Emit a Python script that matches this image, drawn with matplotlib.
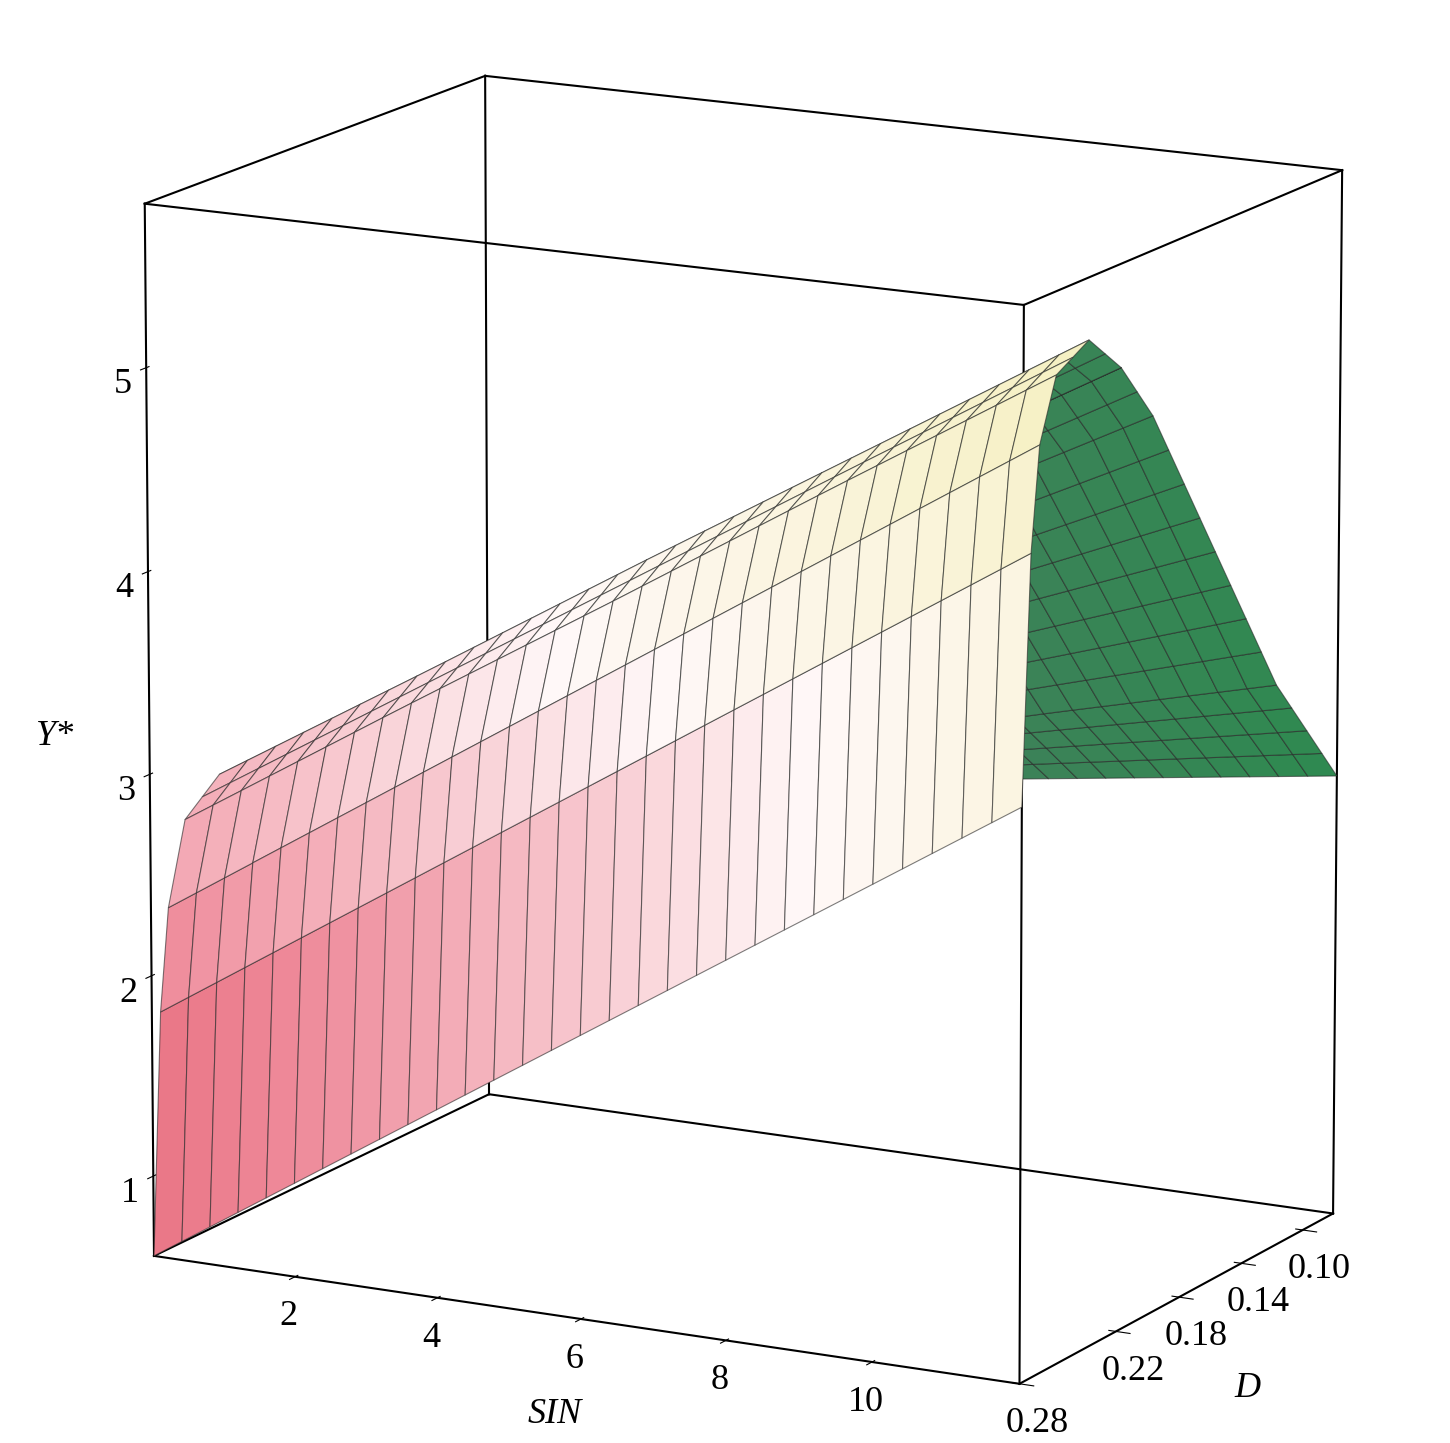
import numpy as np
import matplotlib
matplotlib.use("Agg")
import matplotlib.pyplot as plt
from matplotlib.colors import LinearSegmentedColormap

# ---- data ----
sin_vals = [0, 3, 6, 9, 12]
d_vals = [0.08, 0.10, 0.12, 0.14, 0.16, 0.18, 0.20, 0.22, 0.24, 0.26, 0.27, 0.275, 0.28]
y_table = [  # rows: d_vals, cols: sin_vals
    [2.20, 2.35, 2.50, 2.65, 2.80],
    [2.25, 2.46, 2.68, 2.89, 3.10],
    [2.30, 2.58, 2.85, 3.13, 3.40],
    [2.40, 2.75, 3.10, 3.45, 3.80],
    [2.50, 2.93, 3.35, 3.78, 4.20],
    [2.60, 3.10, 3.60, 4.10, 4.60],
    [2.70, 3.28, 3.85, 4.43, 5.00],
    [2.80, 3.43, 4.05, 4.68, 5.30],
    [2.85, 3.51, 4.18, 4.84, 5.50],
    [2.70, 3.38, 4.05, 4.73, 5.40],
    [2.30, 3.00, 3.70, 4.40, 5.10],
    [1.80, 2.50, 3.20, 3.90, 4.60],
    [0.60, 1.30, 2.00, 2.70, 3.40],
]
z_ticks = [1, 2, 3, 4, 5]
sin_ticks = [2, 4, 6, 8, 10]
d_ticks = [0.10, 0.14, 0.18, 0.22, 0.28]

S0 = np.array(sin_vals, float); D0 = np.array(d_vals, float); Y0 = np.array(y_table)
# display mesh refinement
Sf = np.linspace(S0[0], S0[-1], 31)
Df = np.unique(np.concatenate([np.linspace(0.08, 0.28, 21), D0]))
tmp = np.array([np.interp(Sf, S0, row) for row in Y0])
Yf = np.array([np.interp(Df, D0, tmp[:, j]) for j in range(len(Sf))]).T
SS, DD = np.meshgrid(Sf, Df)

plt.rcParams['font.family'] = ['Liberation Serif', 'DejaVu Serif']
fig = plt.figure(figsize=(14.5, 14.43), dpi=100)
ax = fig.add_axes([-0.04, -0.06, 1.08, 1.1], projection='3d')
ax.set_proj_type('persp', focal_length=2.0)

front = LinearSegmentedColormap.from_list('f', ['#e04858', '#ee8a9a', '#fff8f8', '#f5f0c0'])
green = LinearSegmentedColormap.from_list('g', ['#1e3a30', '#4a7a60', '#2e8a50'])
ridge = D0[np.argmax(Y0[:, -1])]
fc = np.zeros(Yf.shape + (4,))
zn = (Yf - 0.6) / (5.5 - 0.6)
for i in range(Yf.shape[0]):
    for j in range(Yf.shape[1]):
        if DD[i, j] >= ridge:
            fc[i, j] = front(zn[i, j])
        else:
            fc[i, j] = green(0.3 + 0.7 * (SS[i, j] / 12) * (1 - (DD[i, j] - 0.08) / 0.2 * 0.3))
# x = D, y = SIN
ax.plot_surface(DD, SS, Yf, facecolors=fc, edgecolor=(0.15, 0.15, 0.15, 0.6), linewidth=0.8,
                shade=False, antialiased=True)

xl, yl, zl = (0.08, 0.28), (0, 12), (0.6, 5.8)
for x in xl:
    for y in yl:
        ax.plot([x, x], [y, y], zl, color='k', lw=1.5)
for z in zl:
    ax.plot(xl, [yl[0]] * 2, [z, z], color='k', lw=1.5)
    ax.plot(xl, [yl[1]] * 2, [z, z], color='k', lw=1.5)
    ax.plot([xl[0]] * 2, yl, [z, z], color='k', lw=1.5)
    ax.plot([xl[1]] * 2, yl, [z, z], color='k', lw=1.5)
ax.set_xlim(xl); ax.set_ylim(yl); ax.set_zlim(zl)
ax.set_box_aspect((1.0, 1.4, 1.55))
ax.view_init(elev=14, azim=28)
for a in (ax.xaxis, ax.yaxis, ax.zaxis):
    a.pane.fill = False
    a.pane.set_edgecolor((1, 1, 1, 0))
    a.line.set_color((1, 1, 1, 0))
ax.grid(False)
ax.set_yticks(sin_ticks); ax.set_xticks(d_ticks); ax.set_zticks(z_ticks)
ax.set_xticklabels([f"{t:.2f}" for t in d_ticks])
ax.tick_params(labelsize=26)
ax.set_ylabel('SIN', fontsize=26, fontstyle='italic', labelpad=25)
ax.set_xlabel('D', fontsize=26, fontstyle='italic', labelpad=25)
ax.set_zlabel('Y*', fontsize=26, fontstyle='italic', labelpad=25)
fig.savefig('out.png', dpi=100)
